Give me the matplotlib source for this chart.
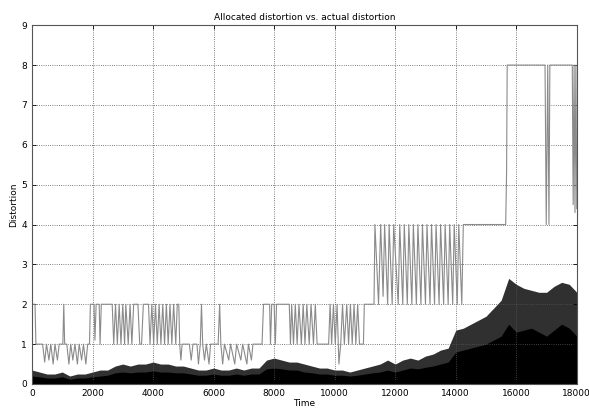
import matplotlib.pyplot as plt

# allocated distortion (step-like)
alloc_t = [0, 100, 130, 350, 420, 480, 560, 620, 700, 760, 840, 900, 1020, 1050, 1080,
           1150, 1220, 1280, 1350, 1420, 1500, 1560, 1640, 1700, 1780, 1840, 1900, 1930,
           2050, 2080, 2120, 2220, 2250, 2290, 2650,
           2700, 2760, 2820, 2880, 2940, 3000, 3060, 3100, 3180, 3240, 3300, 3360,
           3500, 3560, 3620, 3680,
           3850, 3900, 3960, 4020, 4080, 4140, 4200, 4260, 4320, 4380, 4440, 4500, 4560,
           4620, 4680, 4750, 4800, 4850, 4880, 4920, 4960,
           5200, 5260, 5320, 5450, 5500, 5560, 5600, 5640, 5700, 5760, 5850, 5900, 6150,
           6200, 6240, 6300, 6360, 6500, 6560, 6700, 6760, 6900, 6960, 7100, 7150, 7250,
           7300, 7600, 7650,
           7850, 7880, 7920, 8000, 8040, 8080,
           8500, 8540, 8580, 8640, 8700, 8760, 8820, 8900, 8960, 9020, 9080, 9160, 9220,
           9300, 9360, 9420, 9460, 9800,
           9850, 9900, 9960, 10020, 10080, 10140, 10200, 10260, 10320, 10400, 10460,
           10520, 10580, 10640, 10700, 10760, 10820, 10950, 10980, 11300, 11330,
           11450, 11520, 11600, 11650, 11750, 11800, 11900, 11950, 12100, 12150, 12250,
           12300, 12400, 12450, 12550, 12600, 12700, 12750, 12850, 12900, 13000, 13050,
           13150, 13200, 13300, 13350, 13450, 13500, 13600, 13650, 13750, 13800, 13900,
           13950, 14050, 14100, 14200, 14250,
           15650, 15680, 15700, 16950, 16990, 17040, 17080, 17110, 17850, 17880, 17910,
           17940, 17970, 18000]
alloc_v = [2, 2, 1, 1, 0.55, 1, 0.6, 1, 0.5, 1, 0.6, 1, 1, 2, 1,
           1, 0.5, 1, 0.6, 1, 0.5, 1, 0.6, 1, 0.5, 1, 1, 2,
           2, 1.1, 2, 2, 1, 2, 2,
           1, 2, 1, 2, 1, 2, 1, 2, 1, 2, 1, 2,
           2, 1, 1, 2,
           2, 1, 2, 1, 2, 1, 2, 1, 2, 1, 2, 1, 2,
           1, 2, 1, 2, 2, 1, 0.6, 1,
           1, 0.6, 1, 1, 0.5, 1, 2, 1, 0.6, 1, 0.5, 1, 1,
           2, 1, 0.5, 1, 0.6, 1, 0.5, 1, 0.6, 1, 0.5, 1, 0.6,
           1, 1, 2,
           2, 1, 2, 2, 1, 2,
           2, 1, 2, 1, 2, 1, 2, 1, 2, 1, 2, 1, 2,
           1, 2, 1, 1, 1,
           2, 1, 2, 1, 2, 0.5, 1, 2, 1, 2, 1,
           2, 1, 2, 1, 2, 1, 1, 2, 2, 4,
           2, 4, 2.2, 4, 2, 4, 2, 4, 2, 4, 2,
           4, 2, 4, 2, 4, 2, 4, 2, 4, 2, 4,
           2, 4, 2, 4, 2, 4, 2, 4, 2, 4, 2,
           4, 2, 4, 2, 4,
           4, 5.3, 8, 8, 4, 8, 4, 8, 8, 4.5, 8,
           4.3, 8, 4.4]

# actual distortion envelope, sampled every 250 time units
env_t = list(range(0, 18001, 250))
env_top = [0.35, 0.3, 0.25, 0.25, 0.3, 0.2, 0.25, 0.25, 0.3, 0.35, 0.35, 0.45, 0.5,
           0.45, 0.5, 0.5, 0.55, 0.5, 0.5, 0.45, 0.45, 0.4, 0.35, 0.35, 0.4, 0.35, 0.35,
           0.4, 0.35, 0.4, 0.4, 0.6, 0.65, 0.6, 0.55, 0.55, 0.5, 0.45, 0.4, 0.4, 0.35,
           0.35, 0.3, 0.35, 0.4, 0.45, 0.5, 0.6, 0.5, 0.6, 0.65, 0.6, 0.7, 0.75, 0.85,
           0.9, 1.35, 1.4, 1.5, 1.6, 1.7, 1.9, 2.1, 2.65, 2.5, 2.4, 2.35, 2.3, 2.3, 2.45,
           2.55, 2.5, 2.3]
env_core = [0.2, 0.18, 0.15, 0.15, 0.18, 0.12, 0.15, 0.15, 0.18, 0.2, 0.22, 0.28, 0.3,
            0.28, 0.3, 0.3, 0.33, 0.3, 0.3, 0.28, 0.28, 0.25, 0.22, 0.22, 0.25, 0.22,
            0.22, 0.25, 0.22, 0.25, 0.25, 0.38, 0.4, 0.38, 0.35, 0.35, 0.3, 0.28, 0.25,
            0.25, 0.22, 0.22, 0.2, 0.22, 0.25, 0.28, 0.3, 0.35, 0.3, 0.35, 0.4, 0.38,
            0.42, 0.45, 0.5, 0.55, 0.8, 0.85, 0.9, 0.95, 1.0, 1.1, 1.2, 1.5, 1.3, 1.35,
            1.4, 1.3, 1.2, 1.35, 1.5, 1.4, 1.2]

fig = plt.figure(figsize=(5.89, 4.11), dpi=100)
ax = fig.add_axes([0.0543, 0.0657, 0.925, 0.873])

ax.fill_between(env_t, 0, env_top, color='#303030', linewidth=0)
ax.fill_between(env_t, 0, env_core, color='black', linewidth=0)
ax.plot(alloc_t, alloc_v, color='#8a8a8a', linewidth=0.8)

ax.set_xlim(0, 18000)
ax.set_ylim(0, 9)
ax.set_xticks(range(0, 18001, 2000))
ax.set_yticks(range(0, 10))
ax.tick_params(direction='in', labelsize=6.5, length=3, width=0.6, top=True, right=True)
ax.grid(True, linestyle=':', color='#555555', linewidth=0.6)
for s in ax.spines.values():
    s.set_color('#555555')
    s.set_linewidth(0.8)

ax.set_title("Allocated distortion vs. actual distortion", fontsize=6.5, pad=4)
ax.set_xlabel("Time", fontsize=6.5, labelpad=1)
ax.set_ylabel("Distortion", fontsize=6.5, labelpad=2)

plt.savefig("out.png", dpi=100)
